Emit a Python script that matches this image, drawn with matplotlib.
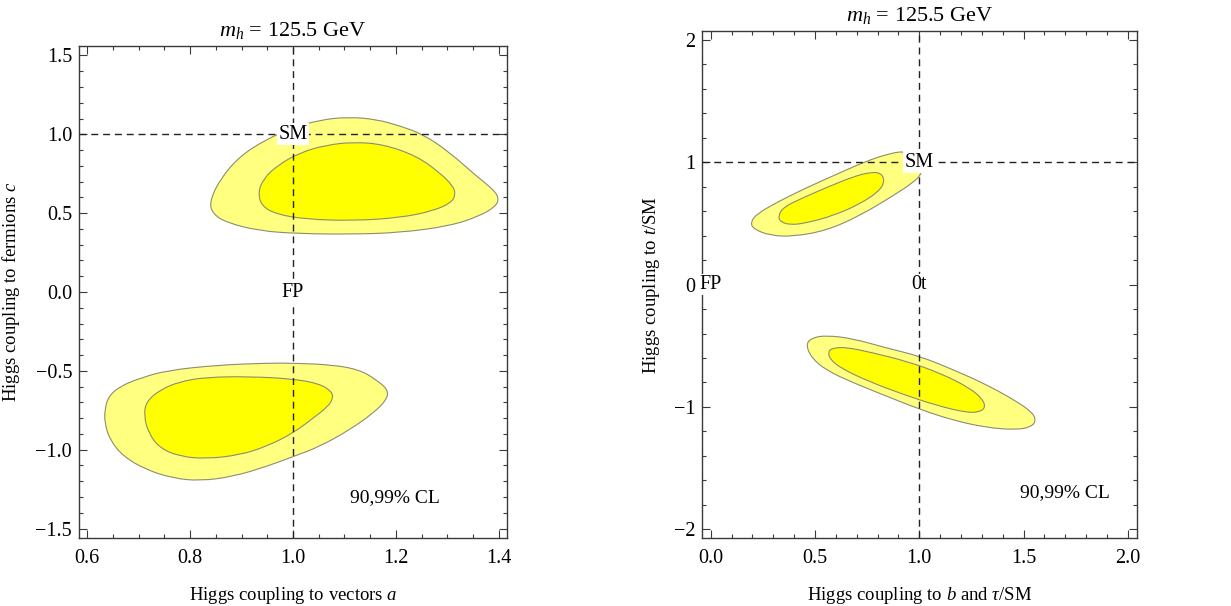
import matplotlib
matplotlib.use("Agg")
import matplotlib.pyplot as plt
from matplotlib.ticker import MultipleLocator, FormatStrFormatter, FuncFormatter
from matplotlib.path import Path
from matplotlib.patches import PathPatch

plt.rcParams['font.family'] = ['Liberation Serif', 'DejaVu Serif']
plt.rcParams['mathtext.fontset'] = 'custom'
plt.rcParams['mathtext.rm'] = 'Liberation Serif'
plt.rcParams['mathtext.it'] = 'Liberation Serif:italic'

# contour outlines, (x, y) in data units
# left panel: a (vectors) vs c (fermions)
left_up_99 = [(0.837, 0.567), (0.858, 0.715), (0.897, 0.863), (0.948, 0.968), (1.000, 1.042),
              (1.052, 1.091), (1.107, 1.110), (1.162, 1.095), (1.208, 1.053), (1.253, 1.000),
              (1.305, 0.884), (1.356, 0.736), (1.389, 0.651), (1.400, 0.598), (1.395, 0.545),
              (1.363, 0.482), (1.305, 0.419), (1.208, 0.376), (1.110, 0.366), (1.013, 0.370),
              (0.935, 0.387), (0.871, 0.440), (0.845, 0.493)]
left_up_90 = [(0.932, 0.630), (0.942, 0.715), (0.968, 0.799), (1.013, 0.884), (1.065, 0.932),
              (1.117, 0.951), (1.175, 0.937), (1.240, 0.863), (1.285, 0.757), (1.311, 0.672),
              (1.316, 0.619), (1.308, 0.567), (1.272, 0.514), (1.208, 0.471), (1.117, 0.452),
              (1.026, 0.461), (0.968, 0.493), (0.939, 0.545)]
left_dn_99 = [(0.634, -0.747), (0.641, -0.663), (0.663, -0.599), (0.702, -0.547), (0.754, -0.498),
              (0.851, -0.464), (0.948, -0.451), (1.000, -0.451), (1.078, -0.462), (1.130, -0.494),
              (1.162, -0.557), (1.185, -0.621), (1.182, -0.684), (1.156, -0.768), (1.110, -0.874),
              (1.052, -0.980), (1.000, -1.044), (0.948, -1.107), (0.884, -1.170), (0.819, -1.198),
              (0.767, -1.181), (0.715, -1.128), (0.670, -1.043), (0.644, -0.938), (0.634, -0.832)]
left_dn_90 = [(0.710, -0.779), (0.715, -0.695), (0.741, -0.621), (0.780, -0.568), (0.832, -0.540),
              (0.916, -0.536), (1.000, -0.551), (1.052, -0.582), (1.075, -0.631), (1.078, -0.673),
              (1.068, -0.726), (1.039, -0.800), (1.000, -0.895), (0.948, -0.980), (0.897, -1.033),
              (0.832, -1.058), (0.780, -1.043), (0.741, -0.990), (0.719, -0.895)]

# right panel: b,tau vs t
right_up_99 = [(0.191, 0.508), (0.220, 0.576), (0.316, 0.670), (0.443, 0.778), (0.603, 0.900),
               (0.746, 1.008), (0.858, 1.070), (0.930, 1.089), (0.994, 1.049), (1.018, 0.968),
               (1.010, 0.900), (0.970, 0.832), (0.874, 0.724), (0.715, 0.562), (0.555, 0.441),
               (0.396, 0.392), (0.284, 0.400), (0.204, 0.454)]
right_up_90 = [(0.324, 0.562), (0.348, 0.630), (0.427, 0.697), (0.555, 0.792), (0.683, 0.881),
               (0.770, 0.919), (0.818, 0.908), (0.834, 0.846), (0.810, 0.765), (0.715, 0.657),
               (0.587, 0.562), (0.459, 0.503), (0.380, 0.486), (0.332, 0.514)]
right_dn_99 = [(0.456, -0.491), (0.483, -0.436), (0.555, -0.415), (0.683, -0.442), (0.842, -0.518),
               (1.002, -0.585), (1.161, -0.694), (1.321, -0.816), (1.464, -0.951), (1.544, -1.046),
               (1.560, -1.114), (1.536, -1.163), (1.464, -1.187), (1.321, -1.168), (1.161, -1.108),
               (1.002, -1.019), (0.842, -0.911), (0.683, -0.802), (0.555, -0.702), (0.483, -0.599)]
right_dn_90 = [(0.563, -0.545), (0.587, -0.518), (0.651, -0.512), (0.778, -0.558), (0.938, -0.626),
               (1.097, -0.721), (1.241, -0.843), (1.305, -0.938), (1.317, -1.005), (1.289, -1.041),
               (1.225, -1.046), (1.081, -0.986), (0.922, -0.897), (0.762, -0.794), (0.635, -0.694),
               (0.571, -0.612)]

title = "$m_h$ = 125.5 GeV"
cl_text = "90,99% CL"

OUTER = '#ffff80'
INNER = '#ffff00'
EDGE = '#8c8c70'
FRAME = '#3a3a3a'
DASH = (0, (5, 3.5))


def draw_region(ax, pts, color):
    # closed outline, corners rounded with quadratic curves through the midpoints
    n = len(pts)
    mid = lambda a, b: ((a[0] + b[0]) / 2, (a[1] + b[1]) / 2)
    verts = [mid(pts[-1], pts[0])]
    codes = [Path.MOVETO]
    for i in range(n):
        verts += [pts[i], mid(pts[i], pts[(i + 1) % n])]
        codes += [Path.CURVE3, Path.CURVE3]
    verts.append(verts[0])
    codes.append(Path.CLOSEPOLY)
    patch = PathPatch(Path(verts, codes), facecolor=color, edgecolor=EDGE,
                      linewidth=0.8, zorder=1)
    ax.add_patch(patch)


def style_axes(ax, xmaj, xmin, ymaj, ymin):
    ax.xaxis.set_major_locator(MultipleLocator(xmaj))
    ax.xaxis.set_minor_locator(MultipleLocator(xmin))
    ax.yaxis.set_major_locator(MultipleLocator(ymaj))
    ax.yaxis.set_minor_locator(MultipleLocator(ymin))
    ax.tick_params(which='both', direction='in', top=True, right=True, colors=FRAME,
                   labelcolor='black', labelsize=14.5)
    ax.tick_params(which='major', length=6, width=0.8)
    ax.tick_params(which='minor', length=3, width=0.8)
    ax.tick_params(axis='x', pad=8)
    ax.tick_params(axis='y', pad=5)
    for s in ax.spines.values():
        s.set_color(FRAME)
        s.set_linewidth(1.0)


def tag(ax, x, y, s):
    ax.text(x, y, s, ha='center', va='center', fontsize=14.5, zorder=6, clip_on=False,
            bbox=dict(facecolor='white', edgecolor='none', pad=1.0))


fig = plt.figure(figsize=(12.31, 6.06), dpi=100)

# ---- left panel
ax1 = fig.add_axes([0.0642, 0.1122, 0.3477, 0.8119])
for pts, col in [(left_up_99, OUTER), (left_up_90, INNER), (left_dn_99, OUTER), (left_dn_90, INNER)]:
    draw_region(ax1, pts, col)
ax1.axvline(1.0, color='#222222', lw=1.0, ls=DASH, zorder=3)
ax1.axhline(1.0, color='#222222', lw=1.0, ls=DASH, zorder=3)
tag(ax1, 1.0, 1.0, "SM")
tag(ax1, 1.0, 0.0, "FP")
ax1.text(1.199, -1.305, cl_text, ha='center', va='center', fontsize=14)
ax1.set_xlim(0.584, 1.416)
ax1.set_ylim(-1.56, 1.56)
style_axes(ax1, 0.2, 0.05, 0.5, 0.1)
ax1.xaxis.set_major_formatter(FormatStrFormatter('%.1f'))
ax1.yaxis.set_major_formatter(FuncFormatter(lambda v, p: ('%.1f' % v).replace('-', '\u2212')))
ax1.set_title(title, fontsize=16, pad=7)
ax1.set_xlabel("Higgs coupling to vectors $a$", fontsize=13.5, labelpad=12)
ax1.set_ylabel("Higgs coupling to fermions $c$", fontsize=13.5, labelpad=10)

# ---- right panel
ax2 = fig.add_axes([0.5703, 0.1122, 0.3531, 0.8366])
for pts, col in [(right_up_99, OUTER), (right_up_90, INNER), (right_dn_99, OUTER), (right_dn_90, INNER)]:
    draw_region(ax2, pts, col)
ax2.axvline(1.0, color='#222222', lw=1.0, ls=DASH, zorder=3)
ax2.axhline(1.0, color='#222222', lw=1.0, ls=DASH, zorder=3)
tag(ax2, 1.0, 1.0, "SM")
tag(ax2, 0.0, 0.0, "FP")
tag(ax2, 1.0, 0.0, "0t")
ax2.text(1.70, -1.70, cl_text, ha='center', va='center', fontsize=14)
ax2.set_xlim(-0.042, 2.043)
ax2.set_ylim(-2.07, 2.07)
style_axes(ax2, 0.5, 0.1, 1.0, 0.2)
ax2.xaxis.set_major_formatter(FormatStrFormatter('%.1f'))
ax2.yaxis.set_major_formatter(FuncFormatter(lambda v, p: ('%d' % round(v)).replace('-', '\u2212')))
ax2.set_title(title, fontsize=16, pad=7)
ax2.set_xlabel("Higgs coupling to $b$ and $\\tau$/SM", fontsize=13.5, labelpad=12)
ax2.set_ylabel("Higgs coupling to $t$/SM", fontsize=13.5, labelpad=8)

fig.savefig("out.png", dpi=100)
